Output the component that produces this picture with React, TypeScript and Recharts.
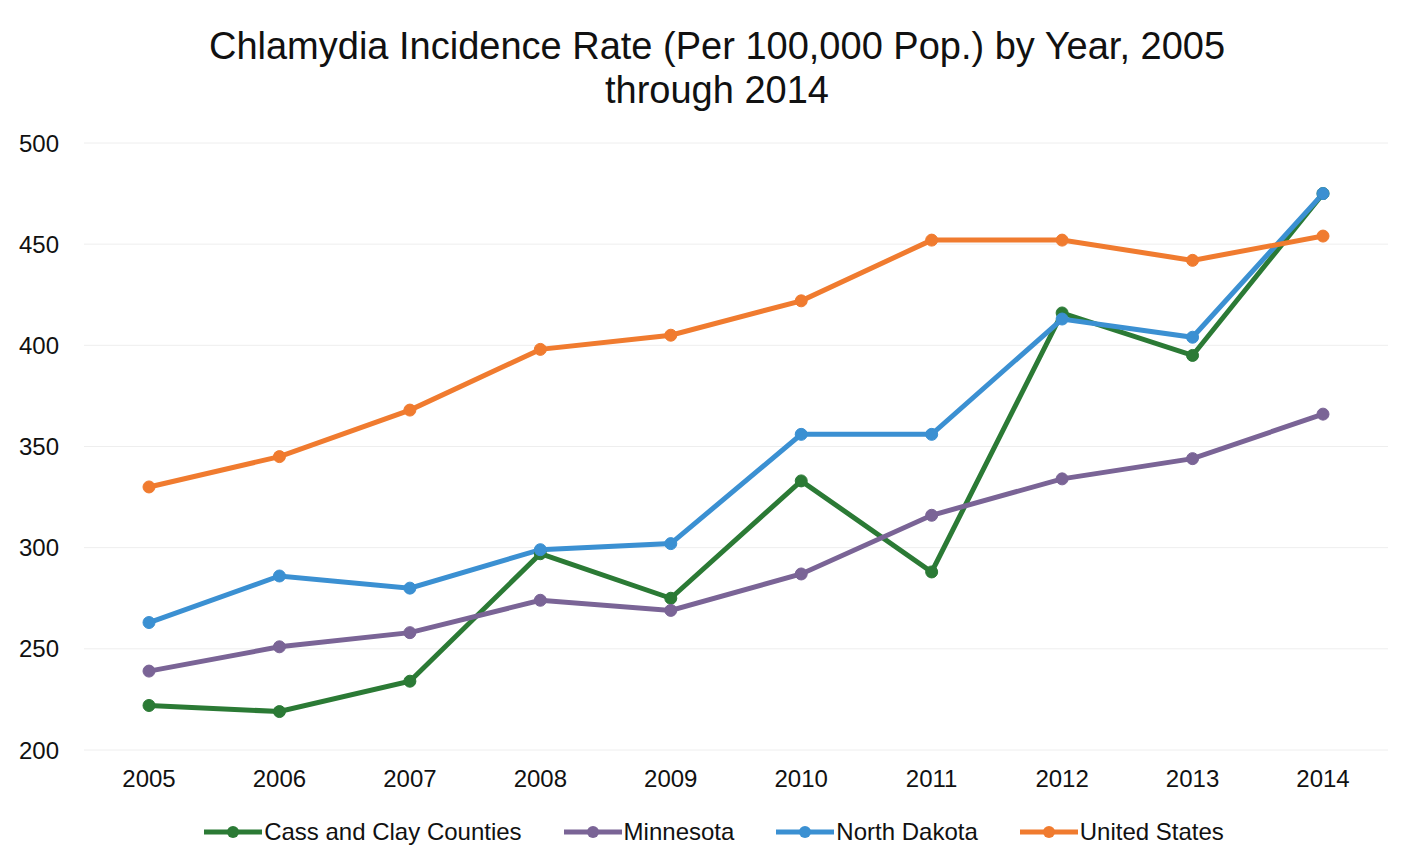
import React from 'react';
import { LineChart, Line, XAxis, YAxis, CartesianGrid, Legend } from 'recharts';

const years = ['2005', '2006', '2007', '2008', '2009', '2010', '2011', '2012', '2013', '2014'];
const cassClay = [222, 219, 234, 297, 275, 333, 288, 416, 395, 475];
const minnesota = [239, 251, 258, 274, 269, 287, 316, 334, 344, 366];
const northDakota = [263, 286, 280, 299, 302, 356, 356, 413, 404, 475];
const unitedStates = [330, 345, 368, 398, 405, 422, 452, 452, 442, 454];
const yTicks = [200, 250, 300, 350, 400, 450, 500];

const series = [
  { key: 'Cass and Clay Counties', values: cassClay, color: '#2b7a35' },
  { key: 'Minnesota', values: minnesota, color: '#7a6496' },
  { key: 'North Dakota', values: northDakota, color: '#3b90d2' },
  { key: 'United States', values: unitedStates, color: '#f07b2f' },
];

const data = years.map((year, i) => {
  const row: any = { year };
  series.forEach((s) => (row[s.key] = s.values[i]));
  return row;
});

const FONT = '"Liberation Sans", Arial, sans-serif';

const LegendContent = () => (
  <div
    style={{
      display: 'flex',
      justifyContent: 'center',
      gap: 42,
      paddingLeft: 40,
      fontFamily: FONT,
      fontSize: 24,
      color: '#111',
    }}
  >
    {series.map((s) => (
      <div key={s.key} style={{ display: 'flex', alignItems: 'center' }}>
        <svg width={58} height={14} style={{ marginRight: 2 }}>
          <line x1={0} y1={7} x2={58} y2={7} stroke={s.color} strokeWidth={5} />
          <circle cx={29} cy={7} r={6} fill={s.color} />
        </svg>
        <span>{s.key}</span>
      </div>
    ))}
  </div>
);

export default function App() {
  return (
    <div style={{ position: 'absolute', left: 0, top: 0, width: 1422, height: 867, background: '#fff' }}>
      <div
        style={{
          position: 'absolute',
          left: 0,
          top: 24,
          width: 1434,
          textAlign: 'center',
          fontFamily: FONT,
          fontSize: 38,
          lineHeight: '44px',
          color: '#111',
        }}
      >
        Chlamydia Incidence Rate (Per 100,000 Pop.) by Year, 2005
        <br />
        through 2014
      </div>
      <LineChart width={1422} height={867} data={data} margin={{ top: 143, right: 34, bottom: 29, left: 0 }}>
        <CartesianGrid vertical={false} stroke="#eeeeee" />
        <XAxis
          dataKey="year"
          axisLine={false}
          tickLine={false}
          tickMargin={14}
          height={60}
          padding={{ left: 65, right: 65 }}
          tick={{ fill: '#111', fontSize: 24, fontFamily: FONT }}
        />
        <YAxis
          domain={[200, 500]}
          ticks={yTicks}
          width={84}
          axisLine={false}
          tickLine={false}
          tickMargin={19}
          tick={{ fill: '#111', fontSize: 24, fontFamily: FONT }}
        />
        <Legend verticalAlign="bottom" content={<LegendContent />} wrapperStyle={{ bottom: 21 }} />
        {series.map((s) => (
          <Line
            key={s.key}
            dataKey={s.key}
            stroke={s.color}
            strokeWidth={5}
            dot={{ r: 6, fill: s.color, stroke: s.color, strokeWidth: 1 }}
            isAnimationActive={false}
          />
        ))}
      </LineChart>
    </div>
  );
}
